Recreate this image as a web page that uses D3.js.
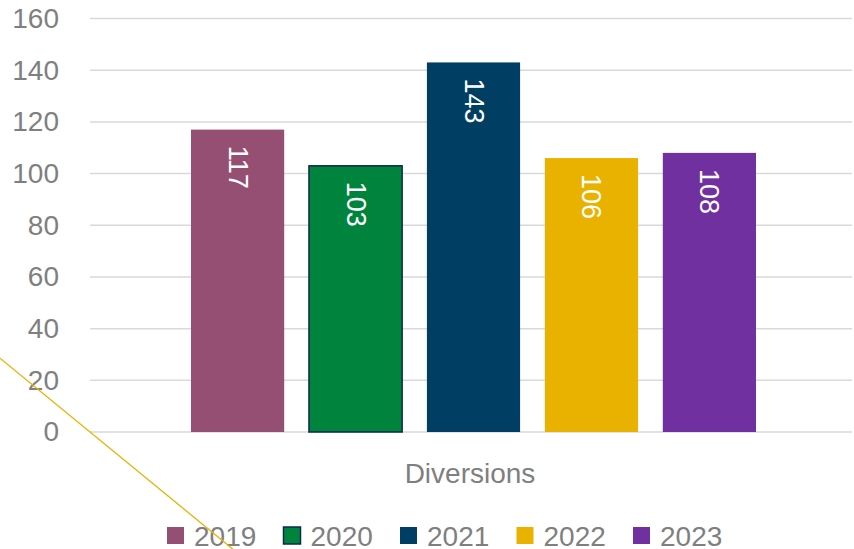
<!DOCTYPE html>
<html>
<head>
<meta charset="utf-8">
<script src="https://cdn.jsdelivr.net/npm/d3@7"></script>
<style>
  body { margin: 0; background: #fff; }
  svg { display: block; font-family: "Liberation Sans", Arial, sans-serif; }
</style>
</head>
<body>
<div id="chart"></div>
<script>
(function(){
  var width = 854,
      height = 549;

  var categories = ['Diversions'];
  var years = ['2019', '2020', '2021', '2022', '2023'];
  var values = [117, 103, 143, 106, 108];
  var yTicks = [0, 20, 40, 60, 80, 100, 120, 140, 160];
  var colors = ['#954F72', '#00843D', '#003F63', '#E9B200', '#7030A0'];

  var svg = d3.select('#chart')
    .append('svg')
    .attr('width', width)
    .attr('height', height);

  var y = d3.scaleLinear().domain([0, 160]).range([432, 18.5]);

  var x0 = d3.scaleBand().domain(categories).range([90, 852]);

  // series inside the one category
  var x1 = d3.scaleBand().domain(years)
    .range([x0('Diversions') + 101, x0('Diversions') + x0.bandwidth() - 96])
    .paddingInner(0.21).paddingOuter(0);

  // gridlines
  svg.append('g')
    .selectAll('line')
    .data(yTicks)
    .enter().append('line')
    .attr('x1', x0.range()[0])
    .attr('x2', x0.range()[1])
    .attr('y1', function(d){ return y(d) })
    .attr('y2', function(d){ return y(d) })
    .attr('stroke', '#d9d9d9')
    .attr('stroke-width', 1.5);

  // y axis labels
  var yAxis = d3.axisLeft(y).tickValues(yTicks).tickSize(0).tickPadding(0);
  svg.append('g')
    .attr('transform', 'translate(59,0)')
    .call(yAxis)
    .call(function(g){ g.select('.domain').remove() })
    .selectAll('text')
    .attr('fill', '#7f7f7f')
    .attr('font-size', 28)
    .attr('font-family', '"Liberation Sans", Arial, sans-serif');

  // bars
  svg.append('g')
    .selectAll('rect')
    .data(years)
    .enter().append('rect')
    .attr('x', function(d){ return x1(d) })
    .attr('width', x1.bandwidth())
    .attr('y', function(d, i){ return y(values[i]) })
    .attr('height', function(d, i){ return y(0) - y(values[i]) })
    .attr('fill', function(d, i){ return colors[i] })
    .attr('stroke', function(d){ return d === '2020' ? '#0b2a4f' : 'none' })
    .attr('stroke-width', 1.5);

  // data labels, rotated 90deg
  svg.append('g')
    .selectAll('text')
    .data(years)
    .enter().append('text')
    .attr('transform', function(d, i){
      return 'translate(' + (x1(d) + x1.bandwidth()/2) + ',' + (y(values[i]) + 16) + ') rotate(90)'
    })
    .attr('dominant-baseline', 'central')
    .attr('fill', '#fff')
    .attr('font-size', 27)
    .text(function(d, i){ return values[i] });

  // category label
  svg.append('text')
    .attr('x', x0('Diversions') + x0.bandwidth()/2 - 1)
    .attr('y', 483)
    .attr('text-anchor', 'middle')
    .attr('fill', '#7f7f7f')
    .attr('font-size', 28)
    .text('Diversions');

  // legend
  var legend = svg.append('g')
    .selectAll('g')
    .data(years)
    .enter().append('g')
    .attr('transform', function(d, i){ return 'translate(' + (167 + i*116.5) + ',535.5)' });

  legend.append('rect')
    .attr('x', 0)
    .attr('y', -8.5)
    .attr('width', 17)
    .attr('height', 17)
    .attr('fill', function(d, i){ return colors[i] })
    .attr('stroke', function(d){ return d === '2020' ? '#0b2a4f' : 'none' })
    .attr('stroke-width', 1.5);

  legend.append('text')
    .attr('x', 27)
    .attr('y', 10)
    .attr('fill', '#7f7f7f')
    .attr('font-size', 28)
    .text(function(d){ return d });

  // stray yellow line through the origin
  var ox = x0.range()[0], oy = y(0), slope = 0.82;
  svg.append('line')
    .attr('x1', ox - 90)
    .attr('y1', oy - 90*slope)
    .attr('x2', ox + 145)
    .attr('y2', oy + 145*slope)
    .attr('stroke', '#E9B200')
    .attr('stroke-width', 1.3);
})()
</script>
</body>
</html>
